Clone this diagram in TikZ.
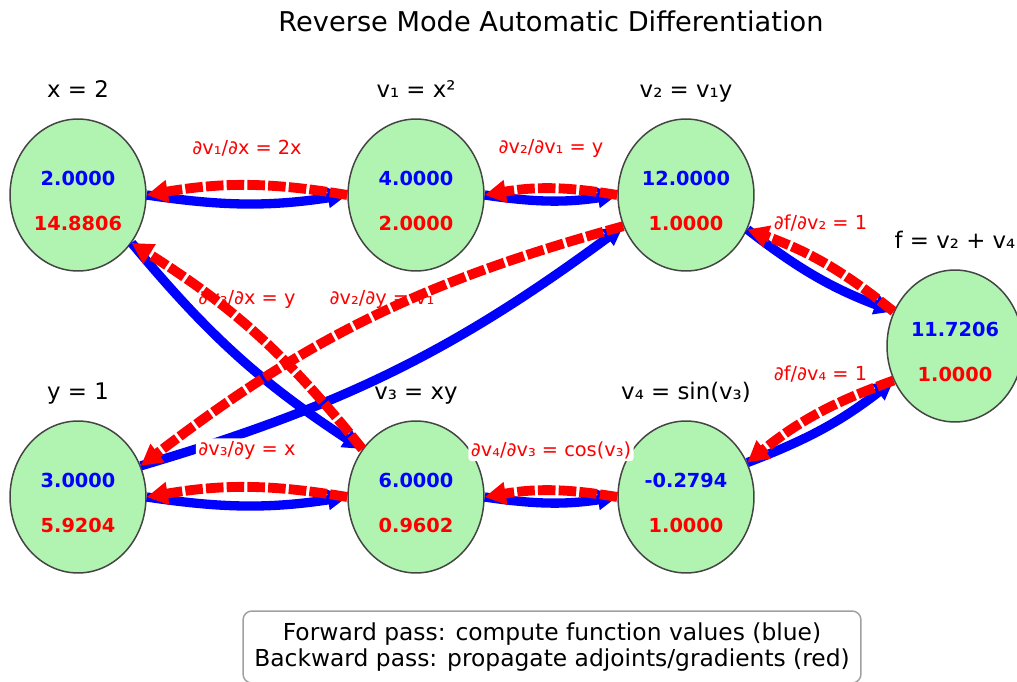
\documentclass[tikz,border=0pt]{standalone}
\usepackage{fontspec}
\setmainfont{DejaVu Sans}
\usetikzlibrary{arrows.meta,calc,positioning,shapes.geometric}

\definecolor{varfill}{RGB}{177,243,177}
\definecolor{varline}{RGB}{68,68,68}
\definecolor{keyline}{RGB}{160,160,160}

\tikzset{
  var/.style={ellipse,draw=varline,line width=0.85pt,fill=varfill,
    minimum width=2.72cm,minimum height=3.04cm,inner sep=0pt},
  fwdval/.style={text=blue,font=\fontsize{11}{13}\selectfont\bfseries},
  adjval/.style={text=red,font=\fontsize{11}{13}\selectfont\bfseries},
  varlab/.style={anchor=base,font=\fontsize{13}{15}\selectfont},
  grad/.style={text=red,fill=white,rounded corners=2pt,inner sep=1.5pt,
    font=\fontsize{11}{13}\selectfont},
  fwd/.style={blue,line width=5.3pt,-{Triangle[length=11pt,width=11pt]},bend right=#1},
  fwd/.default=8.5,
  bwd/.style={red,line width=5.6pt,dash pattern=on 10pt off 1.8pt,
    -{Triangle[length=12pt,width=12.5pt]},bend right=#1},
  bwd/.default=9.5,
  key/.style={draw=keyline,line width=0.85pt,rounded corners=5pt,fill=white,
    align=center,minimum width=12.36cm,minimum height=1.44cm,inner sep=0pt,
    font=\fontsize{13.3}{14.8}\selectfont},
}

\begin{document}
\begin{tikzpicture}[x=0.02cm,y=0.02cm]
  \useasboundingbox (0,0) rectangle (1017,681);
  \node[anchor=base,font=\fontsize{15.5}{18}\selectfont] (title) at (551,649)
    {Reverse Mode Automatic Differentiation};

  % computational graph
  \node[var] (x)  at (78,486)  {};
  \node[var] (v1) at (416,486) {};
  \node[var] (v2) at (686,486) {};
  \node[var] (f)  at (955,335) {};
  \node[var] (y)  at (78,184)  {};
  \node[var] (v3) at (416,184) {};
  \node[var] (v4) at (686,184) {};

  % value (blue) and adjoint (red) of every variable
  \node[fwdval] (xf)  at ($(x)+(0,17)$)   {2.0000};
  \node[adjval] (xa)  at ($(x)+(0,-28)$)  {14.8806};
  \node[fwdval] (v1f) at ($(v1)+(0,17)$)  {4.0000};
  \node[adjval] (v1a) at ($(v1)+(0,-28)$) {2.0000};
  \node[fwdval] (v2f) at ($(v2)+(0,17)$)  {12.0000};
  \node[adjval] (v2a) at ($(v2)+(0,-28)$) {1.0000};
  \node[fwdval] (ff)  at ($(f)+(0,17)$)   {11.7206};
  \node[adjval] (fa)  at ($(f)+(0,-28)$)  {1.0000};
  \node[fwdval] (yf)  at ($(y)+(0,17)$)   {3.0000};
  \node[adjval] (ya)  at ($(y)+(0,-28)$)  {5.9204};
  \node[fwdval] (v3f) at ($(v3)+(0,17)$)  {6.0000};
  \node[adjval] (v3a) at ($(v3)+(0,-28)$) {0.9602};
  \node[fwdval] (v4f) at ($(v4)+(0,17)$)  {-0.2794};
  \node[adjval] (v4a) at ($(v4)+(0,-28)$) {1.0000};

  % definitions above the nodes
  \node[varlab] (xl)  at ($(x)+(0,98)$)  {x = 2};
  \node[varlab] (v1l) at ($(v1)+(0,98)$) {v₁ = x²};
  \node[varlab] (v2l) at ($(v2)+(0,98)$) {v₂ = v₁y};
  \node[varlab] (fl)  at ($(f)+(0,98)$)  {f = v₂ + v₄};
  \node[varlab] (yl)  at ($(y)+(0,98)$)  {y = 1};
  \node[varlab] (v3l) at ($(v3)+(0,98)$) {v₃ = xy};
  \node[varlab] (v4l) at ($(v4)+(0,98)$) {v₄ = sin(v₃)};

  % where the line between two centres leaves each ellipse
  \path (x) -- (v1) coordinate[pos=0] (x-v1) coordinate[pos=1] (v1-x);
  \path (x) -- (v3) coordinate[pos=0] (x-v3) coordinate[pos=1] (v3-x);
  \path (y) -- (v3) coordinate[pos=0] (y-v3) coordinate[pos=1] (v3-y);
  \path (y) -- (v2) coordinate[pos=0] (y-v2) coordinate[pos=1] (v2-y);
  \path (v1) -- (v2) coordinate[pos=0] (v1-v2) coordinate[pos=1] (v2-v1);
  \path (v3) -- (v4) coordinate[pos=0] (v3-v4) coordinate[pos=1] (v4-v3);
  \path (v2) -- (f) coordinate[pos=0] (v2-f) coordinate[pos=1] (f-v2);
  \path (v4) -- (f) coordinate[pos=0] (v4-f) coordinate[pos=1] (f-v4);

  % forward pass
  \draw[fwd] (x-v1) to (v1-x);
  \draw[fwd] (x-v3) to (v3-x);
  \draw[fwd] (y-v3) to (v3-y);
  \draw[fwd=10] (y-v2) to (v2-y);
  \draw[fwd] (v1-v2) to (v2-v1);
  \draw[fwd] (v3-v4) to (v4-v3);
  \draw[fwd] (v2-f) to (f-v2);
  \draw[fwd] (v4-f) to (f-v4);

  % local partial derivatives
  \node[grad] (dv1x)  at ($(x)!.5!(v1)+(0,47)$)  {∂v₁/∂x = 2x};
  \node[grad] (dv2v1) at ($(v1)!.5!(v2)+(0,47)$) {∂v₂/∂v₁ = y};
  \node[grad] (dfv2)  at ($(v2)!.5!(f)+(0,47)$)  {∂f/∂v₂ = 1};
  \node[grad] (dfv4)  at ($(v4)!.5!(f)+(0,47)$)  {∂f/∂v₄ = 1};
  \node[grad] (dv3x)  at ($(x)!.5!(v3)+(0,47)$)  {∂v₃/∂x = y};
  \node[grad] (dv2y)  at ($(y)!.5!(v2)+(0,47)$)  {∂v₂/∂y = v₁};
  \node[grad] (dv3y)  at ($(y)!.5!(v3)+(0,47)$)  {∂v₃/∂y = x};
  \node[grad] (dv4v3) at ($(v3)!.5!(v4)+(0,47)$) {∂v₄/∂v₃ = cos(v₃)};

  % backward pass
  \draw[bwd] (v1-x) to (x-v1);
  \draw[bwd] (v3-x) to (x-v3);
  \draw[bwd] (v3-y) to (y-v3);
  \draw[bwd=11] (v2-y) to (y-v2);
  \draw[bwd] (v2-v1) to (v1-v2);
  \draw[bwd] (v4-v3) to (v3-v4);
  \draw[bwd] (f-v2) to (v2-f);
  \draw[bwd] (f-v4) to (v4-f);

  \node[key] (legend) at (552,34)
    {Forward pass: compute function values (blue)\\
     Backward pass: propagate adjoints/gradients (red)};
\end{tikzpicture}
\end{document}
